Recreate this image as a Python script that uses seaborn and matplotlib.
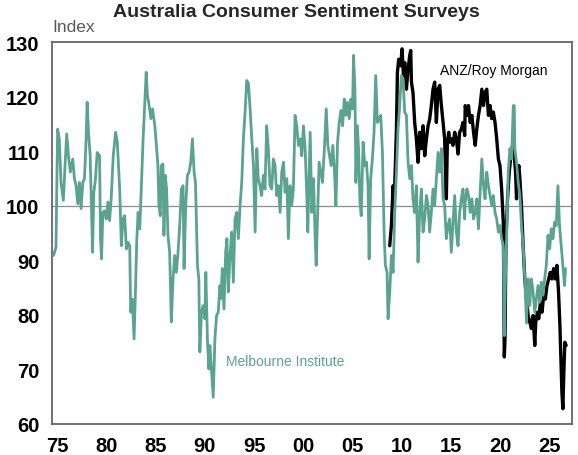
#!/usr/bin/env python3

import pandas as pd
import seaborn as sns
import matplotlib.pyplot as plt

# Melbourne Institute (decimal years)
mi_year = [
    1974.66, 1974.90, 1975.07, 1975.24, 1975.41, 1975.65, 1975.82, 1975.99,
    1976.16, 1976.36, 1976.60, 1976.77, 1976.94, 1977.11, 1977.28, 1977.45,
    1977.62, 1977.79, 1977.96, 1978.06, 1978.20, 1978.37, 1978.47, 1978.61,
    1978.74, 1978.91, 1979.08, 1979.32, 1979.42, 1979.52, 1979.66, 1979.83,
    1980.00, 1980.17, 1980.34, 1980.51, 1980.71, 1980.95, 1981.12, 1981.36,
    1981.53, 1981.70, 1981.87, 1982.04, 1982.21, 1982.38, 1982.48, 1982.65,
    1982.82, 1982.96, 1983.10, 1983.23, 1983.40, 1983.57, 1983.74, 1983.91,
    1984.05, 1984.18, 1984.35, 1984.52, 1984.69, 1984.93,
    1985.24, 1985.34, 1985.48, 1985.58, 1985.75, 1985.85, 1985.99, 1986.12,
    1986.26, 1986.43, 1986.60, 1986.77, 1986.94, 1987.11, 1987.28, 1987.45,
    1987.62, 1987.79, 1987.89, 1988.06, 1988.23, 1988.40, 1988.57, 1988.74,
    1988.91, 1989.05, 1989.15, 1989.25, 1989.39, 1989.49, 1989.66, 1989.83,
    1990.00, 1990.10, 1990.27, 1990.41, 1990.51, 1990.68, 1990.85, 1991.02,
    1991.19, 1991.36, 1991.53, 1991.63, 1991.77, 1991.94, 1992.11, 1992.24,
    1992.38, 1992.55, 1992.72, 1992.89, 1993.06, 1993.23, 1993.40, 1993.57,
    1993.74, 1993.91, 1994.08, 1994.25, 1994.42, 1994.59, 1994.76, 1994.93,
    1995.10, 1995.27,
    1995.42, 1995.59, 1995.76, 1995.93, 1996.10, 1996.27, 1996.44, 1996.61,
    1996.78, 1996.95, 1997.12, 1997.29, 1997.46, 1997.63, 1997.80, 1997.97,
    1998.14, 1998.31, 1998.47, 1998.64, 1998.81, 1998.98, 1999.15, 1999.32,
    1999.49, 1999.66, 1999.83, 2000.00, 2000.17, 2000.34, 2000.44, 2000.58,
    2000.68, 2000.85, 2001.02, 2001.19, 2001.29, 2001.42, 2001.59, 2001.76,
    2001.93, 2002.14, 2002.31, 2002.47, 2002.64, 2002.81, 2002.98, 2003.15,
    2003.29, 2003.46, 2003.63, 2003.80, 2003.97, 2004.14, 2004.31, 2004.47,
    2004.64, 2004.81, 2004.98, 2005.08, 2005.22, 2005.32, 2005.46, 2005.59,
    2005.73, 2005.86,
    2006.05, 2006.22, 2006.39, 2006.55, 2006.66, 2006.82, 2006.99, 2007.16,
    2007.33, 2007.50, 2007.67, 2007.84, 2008.01, 2008.18, 2008.31, 2008.48,
    2008.58, 2008.75, 2008.92, 2009.09, 2009.26, 2009.43, 2009.59, 2009.76,
    2009.93, 2010.10, 2010.27, 2010.44, 2010.61, 2010.78, 2010.95, 2011.11,
    2011.28, 2011.45, 2011.62, 2011.79, 2011.96, 2012.13, 2012.30, 2012.47,
    2012.64, 2012.80, 2012.97, 2013.14, 2013.31, 2013.48, 2013.65, 2013.82,
    2013.99, 2014.16, 2014.32, 2014.49, 2014.66, 2014.83, 2015.00, 2015.17,
    2015.34, 2015.51, 2015.68, 2015.84, 2016.01, 2016.18, 2016.35,
    2016.41, 2016.58, 2016.74, 2016.91, 2017.08, 2017.25, 2017.42, 2017.58,
    2017.75, 2017.92, 2018.09, 2018.26, 2018.42, 2018.59, 2018.76, 2018.93,
    2019.09, 2019.26, 2019.43, 2019.60, 2019.77, 2019.93, 2020.10, 2020.27,
    2020.37, 2020.50, 2020.64, 2020.77, 2020.94, 2021.11, 2021.28, 2021.38,
    2021.44, 2021.61, 2021.78, 2021.95, 2022.11, 2022.28, 2022.45, 2022.62,
    2022.79, 2022.95, 2023.12, 2023.29, 2023.46, 2023.62, 2023.79, 2023.96,
    2024.13, 2024.30, 2024.46, 2024.63, 2024.80, 2024.97, 2025.13, 2025.30,
    2025.47, 2025.64, 2025.81, 2025.97, 2026.14, 2026.31, 2026.48, 2026.58,
]
mi_index = [
    90.9, 92.4, 114.1, 112.3, 104.3, 101.0, 107.4, 113.2,
    109.2, 106.2, 108.6, 105.0, 103.7, 100.4, 104.3, 99.5,
    104.3, 105.0, 112.3, 119.0, 113.5, 109.2, 101.9, 91.5,
    102.5, 105.0, 109.8, 109.2, 94.0, 90.3, 98.8, 99.1,
    97.6, 100.7, 97.3, 101.6, 109.2, 113.5, 111.7, 103.1,
    92.7, 97.6, 98.2, 92.1, 93.3, 92.7, 80.5, 82.9,
    75.6, 84.2, 94.0, 98.8, 95.8, 104.3, 112.3, 119.0,
    124.5, 120.2, 118.4, 116.0, 117.8, 114.7,
    107.4, 100.1, 98.2, 107.4, 107.7, 94.6, 105.6, 103.1,
    94.6, 91.5, 78.7, 86.6, 90.9, 87.8, 91.5, 96.4,
    103.1, 103.7, 88.5, 100.1, 105.6, 106.2, 108.0, 112.3,
    106.2, 104.3, 96.4, 89.1, 86.6, 73.2, 80.5, 81.7,
    79.3, 87.8, 75.0, 70.1, 74.4, 69.5, 64.9, 75.6,
    79.9, 80.5, 85.4, 83.0, 88.5, 81.1, 91.5, 94.0,
    84.2, 90.9, 95.2, 86.0, 97.6, 98.8, 94.0, 100.1,
    104.3, 112.3, 117.2, 123.0, 122.4, 117.8, 112.3, 107.4,
    95.2, 110.5,
    105.0, 103.7, 101.9, 105.6, 103.1, 114.7, 110.5, 103.7,
    103.1, 108.6, 107.4, 101.9, 103.7, 98.8, 106.2, 108.0,
    102.5, 105.0, 94.0, 103.7, 100.1, 103.1, 116.6, 114.7,
    111.1, 112.3, 109.2, 114.7, 110.5, 101.9, 95.2, 106.2,
    113.5, 98.8, 105.0, 94.0, 89.1, 97.6, 108.0, 106.2,
    104.3, 111.1, 117.8, 111.1, 109.2, 107.4, 111.1, 106.2,
    100.1, 111.7, 115.3, 117.5, 114.7, 119.6, 116.6, 119.0,
    116.0, 119.6, 117.8, 127.6, 121.4, 104.3, 114.7, 110.5,
    100.7, 98.2,
    111.7, 107.4, 108.0, 103.7, 90.3, 105.0, 108.6, 113.5,
    123.9, 115.3, 116.0, 116.6, 109.8, 95.2, 89.1, 87.8,
    79.3, 84.2, 90.9, 87.8, 98.8, 106.2, 114.1, 118.4,
    123.9, 123.3, 117.2, 116.6, 108.0, 105.0, 107.4, 101.3,
    98.8, 103.7, 89.7, 98.8, 103.1, 95.2, 97.6, 101.9,
    100.1, 95.2, 98.8, 103.1, 100.1, 105.0, 109.8, 106.2,
    110.5, 101.3, 100.1, 94.0, 96.4, 97.6, 91.5, 97.0,
    101.9, 95.2, 92.7, 98.8, 101.3, 103.1, 97.6,
    100.7, 103.1, 101.9, 98.8, 101.3, 97.6, 98.8, 101.3,
    95.8, 102.5, 108.6, 103.7, 101.3, 106.2, 103.7, 101.9,
    100.1, 101.9, 98.8, 97.6, 95.2, 96.4, 94.0, 92.7,
    76.2, 87.8, 96.4, 106.2, 110.5, 108.6, 118.4, 118.4,
    110.5, 108.0, 104.3, 101.9, 96.4, 92.7, 86.6, 78.5,
    86.6, 81.7, 86.6, 84.2, 80.5, 82.9, 85.4, 82.3,
    86.0, 83.6, 86.6, 89.1, 94.6, 92.1, 95.8, 94.0,
    97.0, 96.4, 103.7, 96.4, 92.7, 89.1, 85.4, 88.5,
]

# ANZ/Roy Morgan
anz_year = [
    2008.75, 2008.92, 2009.09, 2009.19, 2009.32, 2009.43, 2009.53, 2009.66,
    2009.86, 2010.00, 2010.14, 2010.27, 2010.44, 2010.61, 2010.78, 2010.88,
    2010.95, 2011.11, 2011.28, 2011.45, 2011.62, 2011.79, 2011.96, 2012.13,
    2012.30, 2012.47, 2012.64, 2012.80, 2012.97, 2013.14, 2013.31, 2013.48,
    2013.65, 2013.82, 2013.99, 2014.16, 2014.32, 2014.49, 2014.59, 2014.73,
    2014.86, 2015.00, 2015.17, 2015.34, 2015.51, 2015.68, 2015.84, 2016.01,
    2016.18, 2016.35, 2016.41, 2016.58, 2016.74, 2016.91, 2017.08, 2017.25,
    2017.42, 2017.58, 2017.75, 2017.92, 2018.09, 2018.26, 2018.42, 2018.59,
    2018.76, 2018.93, 2019.09, 2019.26, 2019.43, 2019.60, 2019.77, 2019.93,
    2020.10, 2020.27, 2020.37, 2020.44, 2020.54, 2020.70, 2020.87, 2021.04,
    2021.21, 2021.38, 2021.51, 2021.61, 2021.71, 2021.85, 2021.95, 2022.11,
    2022.28, 2022.45, 2022.62, 2022.79, 2022.95, 2023.12, 2023.29, 2023.46,
    2023.56, 2023.73, 2023.86, 2024.03, 2024.20, 2024.36, 2024.53, 2024.70,
    2024.87, 2025.03, 2025.20, 2025.37, 2025.54, 2025.71, 2025.87, 2026.01,
    2026.11, 2026.21, 2026.31, 2026.41, 2026.51, 2026.64,
]
anz_index = [
    92.7, 96.4, 103.7, 100.1, 107.4, 114.1, 124.5, 126.9,
    125.7, 128.8, 123.9, 126.3, 121.4, 125.1, 127.6, 128.5,
    122.7, 120.8, 115.3, 112.3, 108.0, 113.5, 110.5, 114.7,
    109.2, 112.3, 114.7, 115.9, 118.4, 121.4, 122.7, 115.3,
    121.4, 122.1, 118.4, 115.3, 112.3, 101.3, 111.1, 113.5,
    111.7, 112.3, 111.1, 113.5, 112.3, 109.5, 113.5, 114.1,
    115.3, 112.9, 118.4, 116.6, 118.4, 115.3, 116.6, 113.5,
    111.1, 114.1, 116.6, 118.4, 121.4, 118.4, 120.8, 121.4,
    116.6, 118.4, 116.0, 117.2, 115.3, 112.3, 108.6, 107.4,
    103.1, 97.0, 72.3, 75.6, 94.0, 101.3, 106.2, 109.2,
    111.1, 109.2, 106.2, 101.3, 106.2, 107.4, 105.0, 100.1,
    92.7, 86.6, 82.9, 79.9, 78.7, 77.5, 79.9, 74.4,
    78.7, 80.5, 79.3, 82.3, 80.5, 83.6, 82.9, 85.4,
    86.6, 87.8, 86.6, 88.5, 86.6, 89.1, 84.2, 78.1,
    72.0, 65.9, 62.8, 69.5, 75.0, 74.4,
]

tick_years = [1975, 1980, 1985, 1990, 1995, 2000, 2005, 2010, 2015, 2020, 2025]
tick_labels = ["75", "80", "85", "90", "95", "00", "05", "10", "15", "20", "25"]

GREEN = "#5aa38f"
GREY = "#666666"

sns.set_theme(style="white")
plt.rcParams['font.family'] = ['Liberation Sans', 'DejaVu Sans']

mi = pd.DataFrame({"year": mi_year, "index": mi_index})
anz = pd.DataFrame({"year": anz_year, "index": anz_index})

fig = plt.figure(figsize=(5.78, 4.56), dpi=100)
ax = fig.add_axes([0.090, 0.068, 0.899, 0.837])

ax.axhline(100, color="#8c8c8c", lw=0.9, zorder=1)
sns.lineplot(data=anz, x="year", y="index", color="black", lw=2.4,
             estimator=None, sort=False, ax=ax, zorder=2)
sns.lineplot(data=mi, x="year", y="index", color=GREEN, lw=2.0,
             estimator=None, sort=False, ax=ax, zorder=3)

ax.set_xlim(1974.5, 2027.2)
ax.set_ylim(60, 130)
ax.set_xticks(tick_years)
ax.set_xticklabels(tick_labels)
ax.set_yticks(range(60, 131, 10))
ax.set(xlabel="", ylabel="")

for s in ax.spines.values():
    s.set_visible(True)
    s.set_color(GREY)
    s.set_linewidth(1.3)

ax.tick_params(axis="both", direction="out", length=4, width=1, color=GREY,
               labelcolor="black")
ax.tick_params(axis="x", pad=5, labelsize=14.5)
ax.tick_params(axis="y", pad=5, labelsize=14.5)
for lab in ax.get_xticklabels() + ax.get_yticklabels():
    lab.set_fontweight("bold")

ax.text(2013.8, 124.9, "ANZ/Roy Morgan", fontsize=10, color="black",
        ha="left", va="center")
ax.text(1992.1, 71.6, "Melbourne Institute", fontsize=10, color=GREEN,
        ha="left", va="center")

fig.text(0.513, 0.972, "Australia Consumer Sentiment Surveys", fontsize=14,
         fontweight="bold", ha="center", va="center")
fig.text(0.090, 0.940, "Index", fontsize=12.5, color="#595959",
         ha="left", va="center")

fig.savefig("out.png", dpi=100)
